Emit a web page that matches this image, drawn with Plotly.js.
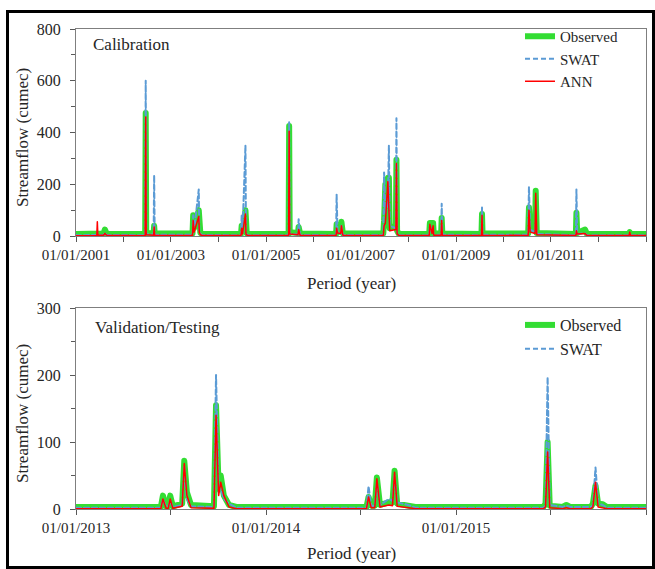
<!DOCTYPE html>
<html>
<head>
<meta charset="utf-8">
<script src="https://cdn.plot.ly/plotly-3.0.1.min.js"></script>
<style>
  html, body { margin: 0; padding: 0; background: #fff; }
  #wrap { position: relative; width: 655px; height: 569px; }
  #chart { position: absolute; left: 0; top: 0; width: 655px; height: 569px; }
  #frame { position: absolute; left: 6px; top: 10px; width: 643px; height: 553px; border: 3px solid #000; pointer-events: none; }
  .scatterlayer path.js-line { stroke-linejoin: round; stroke-linecap: round; }
</style>
</head>
<body>
<div id="wrap">
  <div id="chart"></div>
  <div id="frame"></div>
</div>
<script>
// ---------- Calibration period (2001-2012) ----------
const calDates = [
  '2001-01-01','2001-06-10','2001-06-14','2001-06-18','2001-08-01','2001-08-11','2001-08-25',
  '2002-06-17','2002-06-21','2002-06-25','2002-08-21','2002-08-25','2002-08-29',
  '2003-06-16','2003-06-21','2003-06-28','2003-08-03','2003-08-07','2003-08-15','2003-08-28',
  '2004-06-23','2004-06-28','2004-07-04','2004-07-27','2004-07-31','2004-08-06','2004-08-18',
  '2005-06-24','2005-06-28','2005-07-02','2005-09-04','2005-09-09','2005-09-20',
  '2006-06-24','2006-06-28','2006-07-05','2006-07-30','2006-08-04','2006-08-15',
  '2007-06-22','2007-06-28','2007-07-08','2007-07-27','2007-08-04','2007-08-10','2007-09-27','2007-10-01','2007-10-06','2007-10-20',
  '2008-06-09','2008-06-14','2008-07-01','2008-07-09','2008-07-14','2008-09-09','2008-09-13','2008-09-18',
  '2009-07-16','2009-07-20','2009-07-24',
  '2010-07-10','2010-07-16','2010-07-25','2010-09-01','2010-09-06','2010-09-14',
  '2011-07-12','2011-07-16','2011-07-22','2011-09-20','2011-10-05',
  '2012-08-24','2012-08-29','2012-09-04','2012-12-31'
];
const calObserved = [
  8,8,12,8,10,25,9,
  8,475,12,10,40,10,
  10,80,30,100,30,12,8,
  8,40,15,100,20,10,8,
  8,425,15,12,35,10,
  8,45,25,15,55,10,
  10,60,200,225,225,30,40,295,20,8,
  8,50,50,50,10,10,70,10,
  8,85,10,
  10,110,30,20,175,12,
  8,90,12,25,8,
  8,15,8,8
];
const calSwat = [
  3,3,5,3,4,12,4,
  3,600,8,5,235,5,
  5,80,20,180,20,8,4,
  3,80,10,350,10,6,3,
  3,440,8,6,65,4,
  3,160,12,10,40,4,
  4,245,90,120,350,40,30,455,10,3,
  3,40,15,20,5,5,125,5,
  3,110,5,
  5,190,25,15,60,8,
  3,180,8,10,3,
  3,8,3,3
];
const calAnn = [
  1,1,55,3,3,10,3,
  1,460,5,3,35,3,
  2,60,15,75,15,5,2,
  2,30,8,85,8,4,2,
  2,405,8,5,25,3,
  2,30,12,10,40,3,
  2,40,50,210,60,20,25,280,8,2,
  2,45,10,40,3,3,60,3,
  2,80,3,
  2,100,15,10,165,5,
  2,20,8,10,2,
  2,15,2,2
];

// ---------- Validation/Testing period (2013-2015) ----------
const valDates = [
  '2013-01-01','2013-06-13','2013-06-17','2013-06-23','2013-06-27','2013-07-01','2013-07-06','2013-07-24','2013-07-28','2013-08-02','2013-08-10',
  '2013-09-23','2013-09-27','2013-10-02','2013-10-06','2013-10-12','2013-10-22','2013-11-05',
  '2014-07-13','2014-07-17','2014-07-22','2014-07-29','2014-08-02','2014-08-08','2014-08-25','2014-09-01','2014-09-05','2014-09-10','2014-10-01','2014-10-15',
  '2015-06-18','2015-06-22','2015-06-26','2015-06-30','2015-07-25','2015-08-01','2015-08-08',
  '2015-09-17','2015-09-21','2015-09-26','2015-10-01','2015-10-10','2015-10-18','2015-12-31'
];
const valObserved = [
  3,3,20,4,4,20,4,8,72,25,6,
  4,155,30,50,20,6,3,
  3,18,5,5,47,6,10,10,57,8,5,3,
  3,8,100,5,3,6,3,
  3,8,35,8,7,3,3
];
const valSwat = [
  2,2,15,3,3,12,3,6,65,15,4,
  3,200,25,30,15,8,2,
  2,34,5,5,40,6,15,12,50,10,6,2,
  2,5,197,6,3,5,3,
  3,5,62,8,6,2,2
];
const valAnn = [
  0.5,0.5,15,1,1,15,1,4,68,20,2,
  1,140,20,40,20,3,0.5,
  0.5,18,2,2,45,3,6,5,55,4,2,0.5,
  0.5,3,85,2,0.5,2,0.5,
  0.5,3,40,3,2,0.5,0.5
];

// ---------- Tick labels ----------
const calTickVals = ['2001-01-01','2002-01-01','2003-01-01','2004-01-01','2005-01-01','2006-01-01','2007-01-01',
                     '2008-01-01','2009-01-01','2010-01-01','2011-01-01','2012-01-01','2013-01-01'];
const calTickText = ['01/01/2001','','01/01/2003','','01/01/2005','','01/01/2007',
                     '','01/01/2009','','01/01/2011','',''];
const valTickVals = ['2013-01-01','2013-07-02','2014-01-01','2014-07-02','2015-01-01','2015-07-02','2016-01-01'];
const valTickText = ['01/01/2013','','01/01/2014','','01/01/2015','',''];

const seriesNames = ['Observed','SWAT','ANN'];
const seriesColors = ['#33dd33','#5b9bd5','#ff0000'];

const FONT = '"Liberation Serif", "Times New Roman", Times, serif';
const TXT = '#262626';

function traces(dates, obs, swat, ann, xa, ya, leg, annInLegend) {
  return [
    {x: dates, y: obs, name: seriesNames[0], type: 'scatter', mode: 'lines', xaxis: xa, yaxis: ya, legend: leg,
     line: {color: seriesColors[0], width: 6}},
    {x: dates, y: swat, name: seriesNames[1], type: 'scatter', mode: 'lines', xaxis: xa, yaxis: ya, legend: leg,
     line: {color: seriesColors[1], width: 2, dash: '5px,3px'}},
    {x: dates, y: ann, name: seriesNames[2], type: 'scatter', mode: 'lines', xaxis: xa, yaxis: ya, legend: leg,
     showlegend: annInLegend, line: {color: seriesColors[2], width: 1.5}}
  ];
}

const data = [].concat(
  traces(calDates, calObserved, calSwat, calAnn, 'x', 'y', 'legend', true),
  traces(valDates, valObserved, valSwat, valAnn, 'x2', 'y2', 'legend2', false)
);

const W = 655, H = 569;
const px = v => v / W;
const py = v => 1 - v / H;

const axisCommon = {
  showgrid: false, zeroline: false, showline: true, linecolor: '#7f7f7f', linewidth: 1, mirror: true,
  ticks: 'outside', ticklen: 5, tickcolor: '#595959',
  tickfont: {family: FONT, size: 15, color: TXT}
};

const layout = {
  width: W, height: H,
  margin: {l: 0, r: 0, t: 0, b: 0},
  paper_bgcolor: 'rgba(0,0,0,0)', plot_bgcolor: '#fff',
  font: {family: FONT, color: TXT},
  xaxis: Object.assign({}, axisCommon, {
    domain: [px(76), px(646)], anchor: 'y', type: 'date',
    range: ['2001-01-01', '2013-01-01'], tickmode: 'array', tickvals: calTickVals, ticktext: calTickText
  }),
  yaxis: Object.assign({}, axisCommon, {
    domain: [py(236), py(29)], anchor: 'x', range: [0, 800], tickmode: 'linear', tick0: 0, dtick: 200,
    ticklabelstandoff: 6, tickfont: {family: FONT, size: 16, color: TXT},
    minor: {ticks: 'outside', dtick: 100, ticklen: 4, tickcolor: '#595959'}
  }),
  xaxis2: Object.assign({}, axisCommon, {
    domain: [px(76), px(646)], anchor: 'y2', type: 'date',
    range: ['2013-01-01', '2016-01-01'], tickmode: 'array', tickvals: valTickVals, ticktext: valTickText
  }),
  yaxis2: Object.assign({}, axisCommon, {
    domain: [py(509), py(308)], anchor: 'x2', range: [0, 300], tickmode: 'linear', tick0: 0, dtick: 100,
    ticklabelstandoff: 6, tickfont: {family: FONT, size: 16, color: TXT},
    minor: {ticks: 'outside', dtick: 50, ticklen: 4, tickcolor: '#595959'}
  }),
  showlegend: true,
  legend: {x: px(520), xanchor: 'left', y: py(20), yanchor: 'top', bgcolor: 'rgba(0,0,0,0)',
           font: {family: FONT, size: 15, color: TXT}, tracegroupgap: 0},
  legend2: {x: px(520), xanchor: 'left', y: py(308), yanchor: 'top', bgcolor: 'rgba(0,0,0,0)',
            font: {family: FONT, size: 16, color: TXT}, tracegroupgap: 0},
  annotations: [
    {text: 'Calibration', xref: 'paper', yref: 'paper', x: px(91), y: py(45), xanchor: 'left', yanchor: 'middle',
     showarrow: false, font: {family: FONT, size: 17, color: TXT}},
    {text: 'Validation/Testing', xref: 'paper', yref: 'paper', x: px(93), y: py(328), xanchor: 'left', yanchor: 'middle',
     showarrow: false, font: {family: FONT, size: 17, color: TXT}},
    {text: 'Period (year)', xref: 'paper', yref: 'paper', x: px(351), y: py(283), xanchor: 'center', yanchor: 'middle',
     showarrow: false, font: {family: FONT, size: 17, color: TXT}},
    {text: 'Period (year)', xref: 'paper', yref: 'paper', x: px(351), y: py(553), xanchor: 'center', yanchor: 'middle',
     showarrow: false, font: {family: FONT, size: 17, color: TXT}},
    {text: 'Streamflow (cumec)', xref: 'paper', yref: 'paper', x: px(22), y: py(138), xanchor: 'center', yanchor: 'middle',
     textangle: -90, showarrow: false, font: {family: FONT, size: 17, color: TXT}},
    {text: 'Streamflow (cumec)', xref: 'paper', yref: 'paper', x: px(22), y: py(414), xanchor: 'center', yanchor: 'middle',
     textangle: -90, showarrow: false, font: {family: FONT, size: 17, color: TXT}}
  ]
};

Plotly.newPlot('chart', data, layout, {displayModeBar: false, staticPlot: true});
</script>
</body>
</html>
